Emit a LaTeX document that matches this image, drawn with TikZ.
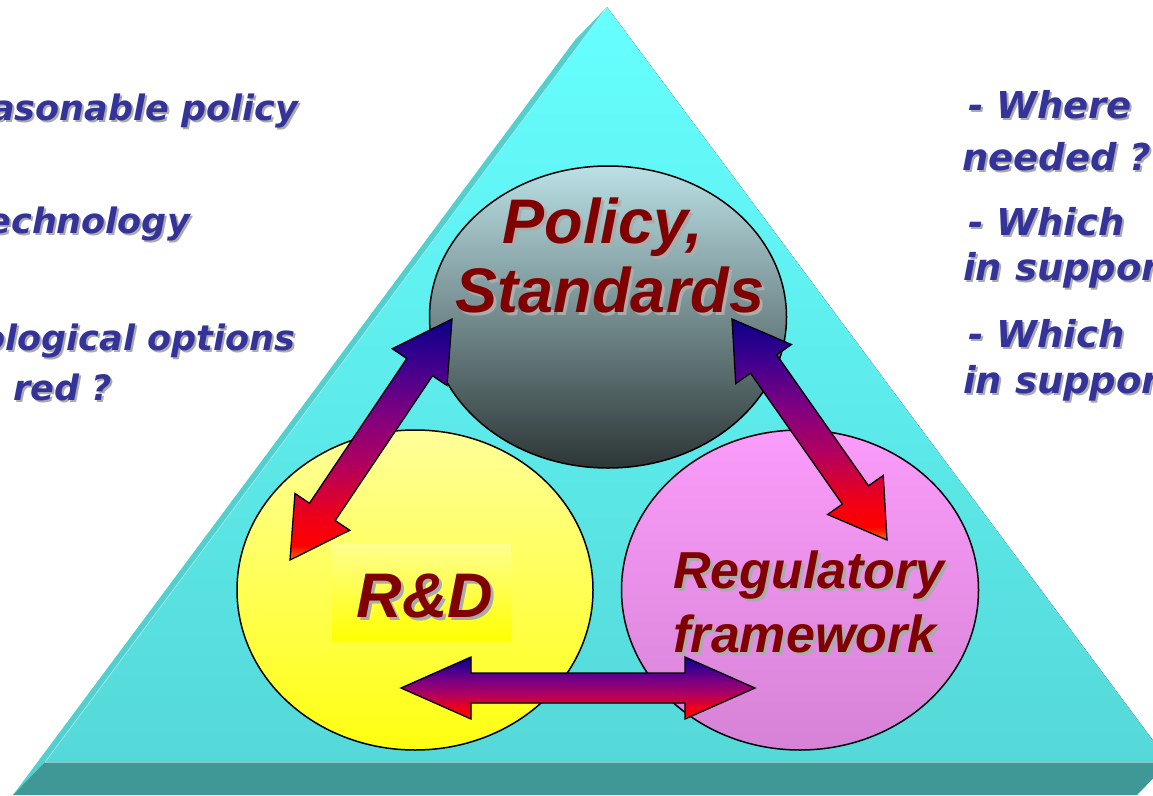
\documentclass[tikz,border=0pt]{standalone}
\usepackage{fontspec}
\setmainfont{Liberation Sans}
\newfontfamily\sidefont{DejaVu Sans}
\usetikzlibrary{shapes.geometric,calc}

\definecolor{cyantop}{HTML}{66FFFF}
\definecolor{cyanbot}{HTML}{55D8D8}
\definecolor{sideface}{HTML}{52CFCF}
\definecolor{edgeline}{HTML}{A8F0F0}
\definecolor{slab}{HTML}{3F9896}
\definecolor{slabline}{HTML}{8CC8C8}
\definecolor{poltop}{HTML}{BAE0E5}
\definecolor{polbot}{HTML}{2D3636}
\definecolor{yeltop}{HTML}{FFFF99}
\definecolor{yelbot}{HTML}{FFFF10}
\definecolor{pinktop}{HTML}{FA9CFA}
\definecolor{pinkbot}{HTML}{D682D6}
\definecolor{rdtop}{HTML}{FFFF90}
\definecolor{rdbot}{HTML}{FFFF00}
\definecolor{darkred}{HTML}{800000}
\definecolor{sideblue}{HTML}{333399}
\definecolor{shadowgray}{HTML}{ABABAB}
\definecolor{aOrange}{HTML}{FF6A00}
\definecolor{aRed}{HTML}{FF0000}
\definecolor{aRedB}{HTML}{EE0018}
\definecolor{aMag}{HTML}{B00060}
\definecolor{aPurp}{HTML}{800080}
\definecolor{aViol}{HTML}{42008E}
\definecolor{aNavy}{HTML}{0A0088}

\pgfdeclareverticalshading{arrshade}{100bp}{color(0bp)=(aOrange); color(25bp)=(aOrange); color(28bp)=(aRed); color(34bp)=(aRedB); color(45bp)=(aMag); color(55bp)=(aPurp); color(65bp)=(aViol); color(75bp)=(aNavy); color(100bp)=(aNavy)}

% text with a drop shadow: #1 text, #2 offset, #3 shadow colour
\newcommand\shd[3]{\leavevmode\rlap{\kern#2\raisebox{-#2}{\textcolor{#3}{#1}}}#1}

% double block arrow between two named coordinates
% #1 start, #2 end, #3 shaft half width, #4 head length, #5 head half width
\newcommand\blockarrow[5]{%
  \pgfpointdiff{\pgfpointanchor{#1}{center}}{\pgfpointanchor{#2}{center}}%
  \pgfgetlastxy{\adx}{\ady}%
  \pgfmathsetmacro\alen{veclen(\adx,\ady)}%
  \pgfmathsetmacro\aang{atan2(\ady,\adx)}%
  \begin{scope}[shift={(#1)},rotate=\aang,x=1pt,y=1pt]
    \filldraw[blockarr] (0,0) -- (#4,#5) -- (#4,#3) -- ({\alen-#4},#3) -- ({\alen-#4},#5)
      -- (\alen,0) -- ({\alen-#4},-#5) -- ({\alen-#4},-#3) -- (#4,-#3) -- (#4,-#5) -- cycle;
  \end{scope}}

\tikzset{
  elli/.style={ellipse, draw=black, line width=1.5pt, inner sep=0pt},
  rdbox/.style={rectangle, inner sep=0pt, top color=rdtop, bottom color=rdbot},
  blockarr/.style={draw=black, line width=1.3pt, line join=miter, shading=arrshade},
  bigtxt/.style={text=darkred, inner sep=0pt, anchor=base,
    font=\bfseries\itshape\fontsize{63}{70}\selectfont},
  midtxt/.style={text=darkred, inner sep=0pt, anchor=base,
    font=\bfseries\itshape\fontsize{52}{60}\selectfont},
  lefttxt/.style={text=sideblue, inner sep=0pt, anchor=base east,
    font=\sidefont\bfseries\itshape\fontsize{35}{40}\selectfont},
  righttxt/.style={text=sideblue, inner sep=0pt, anchor=base west,
    font=\sidefont\bfseries\itshape\fontsize{37}{42}\selectfont},
}

\begin{document}
\begin{tikzpicture}[x=1pt,y=-1pt]
\useasboundingbox (0,0) rectangle (1153,795);
\clip (0,0) rectangle (1153,795);
\fill[white] (0,0) rectangle (1153,795);

% pyramid
\fill[sideface] (607,7) -- (575,40) -- (13,795) -- (45,762) -- cycle;
\fill[slab] (45,762) -- (1169,762) -- (1137,795) -- (13,795) -- cycle;
\fill[top color=cyantop, bottom color=cyanbot] (607,7) -- (1169,762) -- (45,762) -- cycle;
\draw[edgeline, line width=0.7pt] (607,7) -- (45,762);
\draw[slabline, line width=1pt] (45,762) -- (1169,762);

% circles
\node[elli, top color=yeltop, bottom color=yelbot, minimum width=356pt, minimum height=320pt] (rd) at (415,590) {};
\node[elli, top color=pinktop, bottom color=pinkbot, minimum width=357pt, minimum height=320pt] (reg) at (800,590) {};
\node[elli, top color=poltop, bottom color=polbot, minimum width=357pt, minimum height=302pt] (pol) at (608,317) {};
\node[rdbox, minimum width=179pt, minimum height=98pt] (rdrect) at (421.5,592) {};

% labels
\node[bigtxt] (polA) at (603,243) {\shd{Policy,}{3pt}{shadowgray}};
\node[bigtxt] (polB) at (610,312) {\shd{Standards}{3pt}{shadowgray}};
\node[bigtxt] (rdtxt) at (425,617) {\shd{R\&D}{3pt}{shadowgray}};
\node[midtxt] (regA) at (809,588) {\shd{Regulatory}{3pt}{shadowgray}};
\node[midtxt] (regB) at (805,652) {\shd{framework}{3pt}{shadowgray}};

% side texts
\node[lefttxt] (l1) at (298,120) {\shd{asonable policy}{2pt}{shadowgray}};
\node[lefttxt] (l2) at (190,233) {\shd{echnology}{2pt}{shadowgray}};
\node[lefttxt] (l3) at (295,350) {\shd{ological options}{2pt}{shadowgray}};
\node[lefttxt] (l4) at (112,400) {\shd{red ?}{2pt}{shadowgray}};

\node[righttxt] (r1) at (968,118) {\shd{- Where}{2pt}{shadowgray}};
\node[righttxt] (r2) at (962,170) {\shd{needed ?}{2pt}{shadowgray}};
\node[righttxt] (r3) at (968,235) {\shd{- Which}{2pt}{shadowgray}};
\node[righttxt] (r4) at (963,280) {\shd{in support}{2pt}{shadowgray}};
\node[righttxt] (r5) at (968,347) {\shd{- Which}{2pt}{shadowgray}};
\node[righttxt] (r6) at (963,393) {\shd{in support}{2pt}{shadowgray}};

% arrow end points
\coordinate (aLred) at (290,560);
\coordinate (aLnavy) at (452,319);
\coordinate (aRnavy) at (732,319);
\coordinate (aRred) at (887,540);
\coordinate (aBl) at (401,688);
\coordinate (aBr) at (755,688);

\blockarrow{aLred}{aLnavy}{15.5}{58}{33}
\blockarrow{aRnavy}{aRred}{16}{55}{34}
\blockarrow{aBl}{aBr}{15}{70}{31}
\end{tikzpicture}
\end{document}
